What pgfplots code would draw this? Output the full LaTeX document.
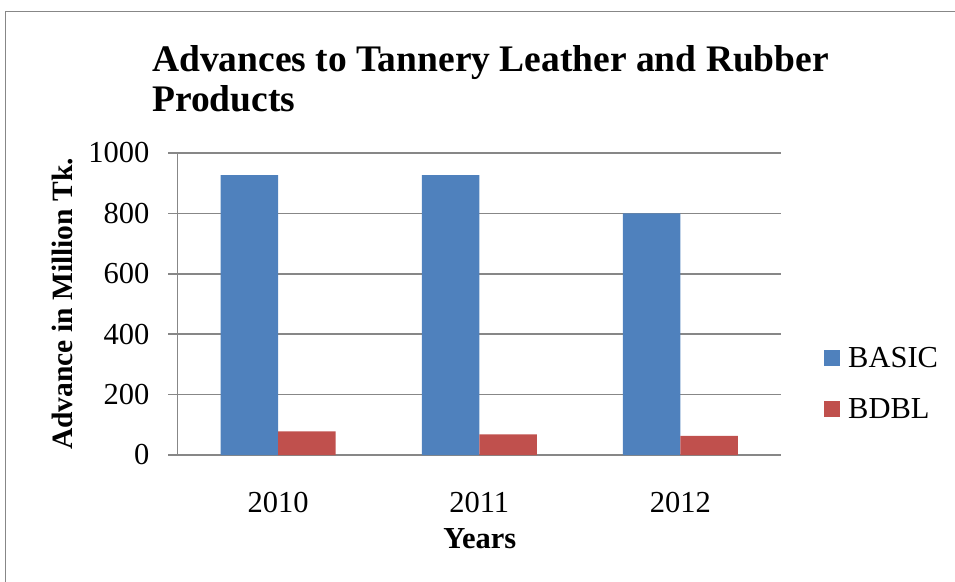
\documentclass[border=0pt]{standalone}
\usepackage{pgfplots}
\pgfplotsset{compat=1.18}
\usepackage{fontspec}
\setmainfont{Liberation Serif}
\definecolor{basicblue}{HTML}{4F81BD}
\definecolor{bdblred}{HTML}{C0504D}
\definecolor{linegray}{HTML}{878787}
\begin{document}
\begin{tikzpicture}[x=1pt,y=1pt]
\useasboundingbox (0,0) rectangle (955,581);
% outer chart frame
\draw[linegray, line width=1.5pt] (5.5,-10) -- (5.5,569.5) -- (970,569.5);
% title
\node[anchor=base west, inner sep=0pt, font=\fontsize{37.5}{44}\selectfont\bfseries]
  at (152,509) {Advances to Tannery Leather and Rubber};
\node[anchor=base west, inner sep=0pt, font=\fontsize{37.5}{44}\selectfont\bfseries]
  at (152,469) {Products};
\begin{axis}[
  at={(177.5pt,126pt)}, anchor=south west,
  scale only axis, width=603.5pt, height=302pt,
  ybar=0pt, bar width=57.5pt,
  xmin=-0.5, xmax=2.5, ymin=0, ymax=1000,
  xtick=data, xticklabels={2010,2011,2012},
  ytick={0,200,400,600,800,1000},
  axis x line*=bottom, axis y line*=left,
  axis line style={linegray, line width=1.5pt},
  ymajorgrids, grid style={linegray, line width=1.5pt},
  tick align=outside, major tick length=9pt,
  xtick style={draw=none},
  ytick style={linegray, line width=1.5pt},
  ticklabel style={font=\fontsize{30.5}{36}\selectfont},
  yticklabel style={anchor=east, inner sep=0pt, xshift=-19pt},
  xticklabel style={anchor=north, inner sep=0pt, yshift=-28pt},
  /pgf/number format/assume math mode=true,
  /pgf/number format/1000 sep={},
  xlabel={Years},
  xlabel style={at={(axis description cs:0.501,-0.308)}, anchor=base,
    font=\fontsize{30.5}{36}\selectfont\bfseries},
  ylabel={Advance in Million Tk.},
  ylabel style={at={(axis description cs:-0.1748,0.5)}, anchor=base, rotate=0,
    font=\fontsize{29.5}{36}\selectfont\bfseries},
  legend style={at={(axis description cs:1.0713,0.2368)}, anchor=west,
    draw=none, fill=none, inner sep=0pt, row sep=30pt,
    font=\fontsize{30.5}{36}\selectfont,
    nodes={inner sep=0pt}},
  legend cell align=left,
]
\addplot[fill=basicblue, draw=none,
  legend image code/.code={\fill[basicblue] (0pt,-8pt) rectangle (16pt,8pt); \path (24pt,0pt);}]
  coordinates {(0,927) (1,927) (2,800)};
\addplot[fill=bdblred, draw=none,
  legend image code/.code={\fill[bdblred] (0pt,-8pt) rectangle (16pt,8pt); \path (24pt,0pt);}]
  coordinates {(0,78) (1,68) (2,63)};
\legend{BASIC, BDBL}
\end{axis}
\end{tikzpicture}
\end{document}
